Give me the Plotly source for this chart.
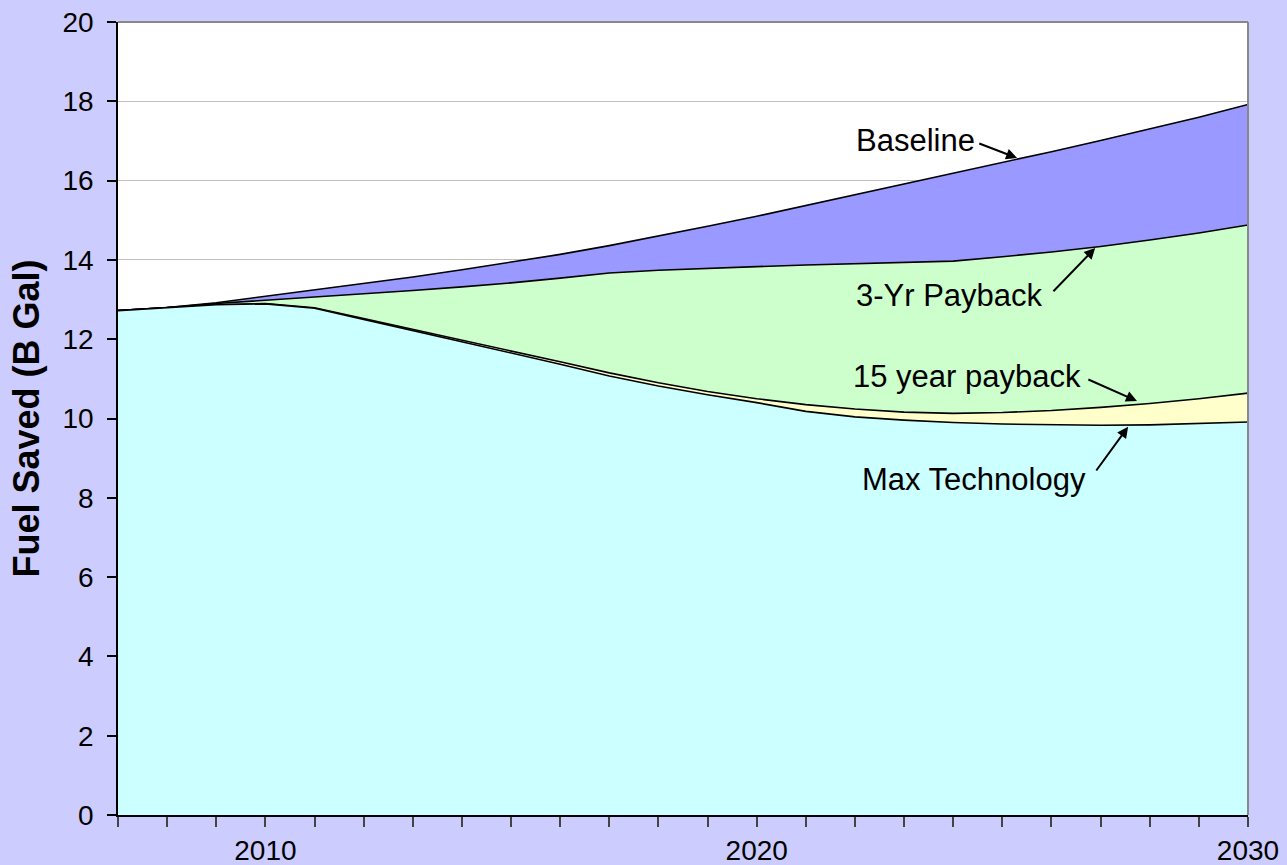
import plotly.graph_objects as go

years = list(range(2007, 2031))

baseline = [12.72, 12.80, 12.92, 13.08, 13.24, 13.40, 13.57, 13.75, 13.94, 14.14,
            14.36, 14.60, 14.85, 15.10, 15.37, 15.64, 15.91, 16.18, 16.45, 16.73,
            17.01, 17.30, 17.60, 17.92]
payback_3yr = [12.72, 12.80, 12.90, 12.98, 13.06, 13.14, 13.23, 13.32, 13.42, 13.54,
               13.67, 13.74, 13.79, 13.83, 13.87, 13.90, 13.94, 13.97, 14.08, 14.20,
               14.34, 14.50, 14.68, 14.88]
payback_15yr = [12.72, 12.80, 12.87, 12.90, 12.79, 12.52, 12.25, 11.98, 11.71, 11.43,
                11.15, 10.90, 10.68, 10.50, 10.35, 10.24, 10.16, 10.13, 10.15, 10.20,
                10.28, 10.38, 10.50, 10.64]
max_tech = [12.72, 12.80, 12.87, 12.89, 12.78, 12.50, 12.22, 11.94, 11.66, 11.37,
            11.07, 10.82, 10.60, 10.40, 10.18, 10.04, 9.96, 9.90, 9.86, 9.84,
            9.83, 9.84, 9.87, 9.91]

series = [
    ("Baseline", baseline, "#9999FF"),
    ("3-Yr Payback", payback_3yr, "#CCFFCC"),
    ("15 year payback", payback_15yr, "#FFFFCC"),
    ("Max Technology", max_tech, "#CCFFFF"),
]

FONT = "Liberation Sans, Arial, sans-serif"

fig = go.Figure()
for name, vals, color in series:
    fig.add_trace(go.Scatter(x=years, y=vals, name=name, mode="lines",
                             fill="tozeroy", fillcolor=color,
                             line=dict(color="black", width=1.6)))

# labels with arrows: (text, text x, text y, arrow tail x, y, arrow head x, y)
labels = [
    ("Baseline", 2024.48, 17.02, 2024.50, 16.95, 2025.30, 16.57),
    ("3-Yr Payback", 2025.87, 13.09, 2026.01, 13.17, 2026.89, 14.30),
    ("15 year payback", 2026.64, 11.07, 2026.72, 11.00, 2027.74, 10.44),
    ("Max Technology", 2026.74, 8.45, 2026.89, 8.65, 2027.56, 9.79),
]
for text, tx, ty, ax, ay, hx, hy in labels:
    fig.add_annotation(x=tx, y=ty, text=text, showarrow=False, xanchor="right",
                       yanchor="middle", font=dict(size=31, color="black", family=FONT))
    fig.add_annotation(x=hx, y=hy, ax=ax, ay=ay, axref="x", ayref="y", text="",
                       showarrow=True, arrowhead=2, arrowsize=1.1, arrowwidth=2,
                       arrowcolor="black")

# grey border top and right
fig.add_shape(type="line", xref="paper", yref="paper", x0=0, x1=1, y0=1, y1=1,
              line=dict(color="#888888", width=2))
fig.add_shape(type="line", xref="paper", yref="paper", x0=1, x1=1, y0=0, y1=1,
              line=dict(color="#888888", width=2))

fig.update_layout(
    width=1287, height=865,
    margin=dict(l=118, r=39, t=22, b=50),
    paper_bgcolor="#CCCCFF", plot_bgcolor="white",
    showlegend=False,
    font=dict(family=FONT, color="black", size=28),
)
fig.update_xaxes(range=[2007, 2030], tickvals=years,
                 ticktext=[str(y) if y % 10 == 0 else "" for y in years],
                 ticks="outside", ticklen=10, tickcolor="#444444", tickwidth=1.5,
                 showline=True, linecolor="black", linewidth=1.5, automargin=False,
                 showgrid=False, zeroline=False, tickfont=dict(size=28))
fig.update_yaxes(range=[0, 20], dtick=2, ticks="outside", ticklen=9,
                 tickcolor="black", tickwidth=1.5, ticklabelstandoff=8,
                 showline=True, linecolor="black", linewidth=1.5, automargin=False,
                 showgrid=True, gridcolor="#C0C0C0", gridwidth=1, zeroline=False,
                 tickfont=dict(size=28),
                 title=dict(text="<b>Fuel Saved (B Gal)</b>", font=dict(size=36), standoff=12))

# drop the default page margin so the figure sits at the window corner
fig.write_html("out.html", config={"displayModeBar": False},
               post_script="document.body.style.margin='0px';"
                           "document.body.style.background='#CCCCFF';")
